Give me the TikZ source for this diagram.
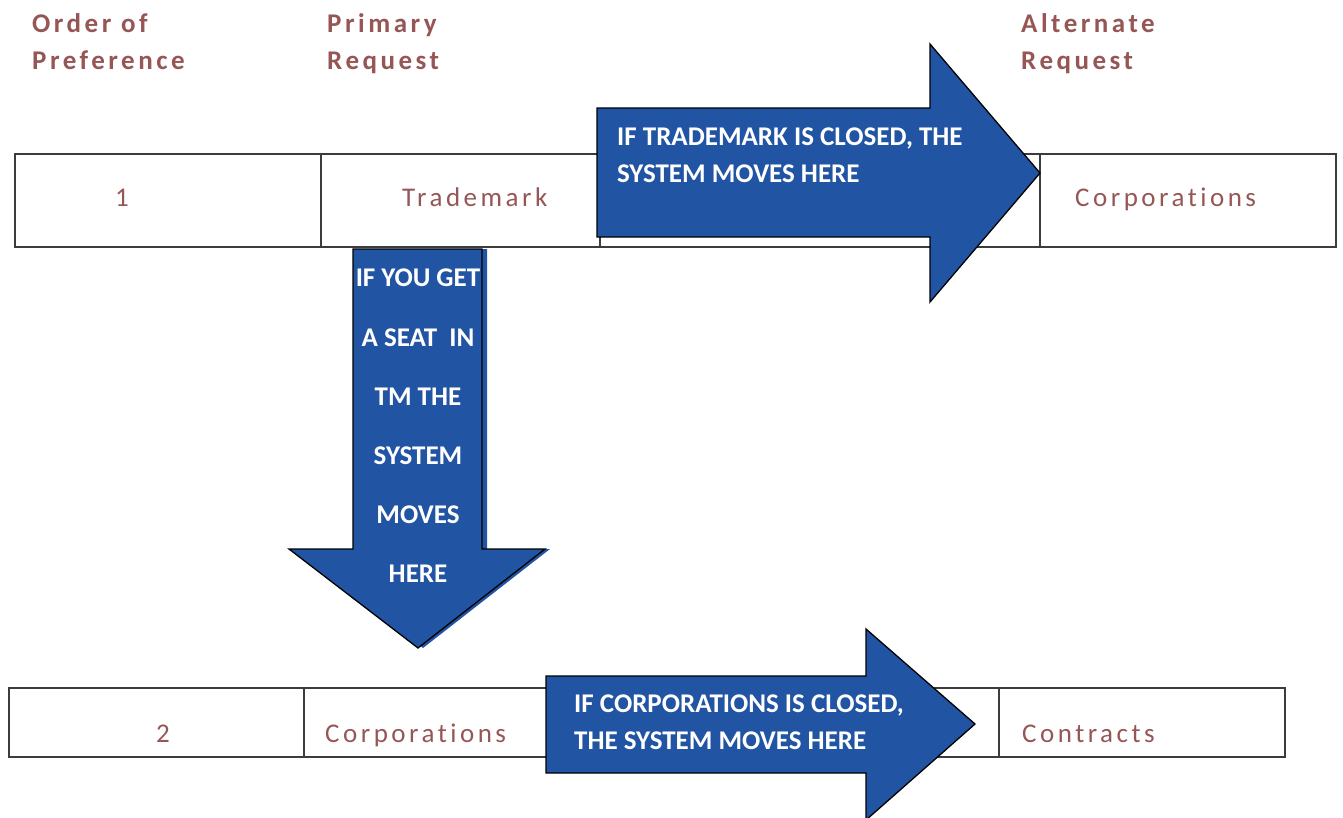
\documentclass[tikz,border=0pt]{standalone}
\usepackage{fontspec}
\setmainfont{Carlito}[Ligatures=NoCommon]
\definecolor{hdr}{RGB}{150,86,86}
\definecolor{arrowblue}{RGB}{34,84,164}
\definecolor{gridline}{RGB}{60,60,60}
\begin{document}
\begin{tikzpicture}[x=1pt,y=-1pt,
  cell/.style={draw=gridline, line width=1.1pt},
  bluearrow/.style={fill=arrowblue, draw=black, line width=1.3pt, line join=miter},
  bluecast/.style={fill=arrowblue, draw=none},
  headtext/.style={anchor=base west, text=hdr, inner sep=0pt,
    font=\fontsize{27}{32}\selectfont\bfseries\addfontfeatures{LetterSpace=13}},
  celltext/.style={anchor=base west, text=hdr, inner sep=0pt,
    font=\fontsize{27}{32}\selectfont\addfontfeatures{LetterSpace=13}},
  arrowtext/.style={anchor=base west, text=white, inner sep=0pt,
    font=\fontsize{27}{32}\selectfont\bfseries},
  downtext/.style={anchor=base, text=white, inner sep=0pt,
    font=\fontsize{27}{32}\selectfont\bfseries},
]
\useasboundingbox (0,0) rectangle (1343,817);

% headings
\node[headtext] (h1a) at (32,32) {Order of};
\node[headtext] (h1b) at (32,69) {Preference};
\node[headtext] (h2a) at (327,32) {Primary};
\node[headtext] (h2b) at (327,69) {Request};
\node[headtext] (h3a) at (1021,32) {Alternate};
\node[headtext] (h3b) at (1021,69) {Request};

% row 1 table
\draw[cell] (15,154) rectangle (1336,247);
\draw[cell] (321,154) -- (321,247);
\draw[cell] (600,154) -- (600,247);
\draw[cell] (1040,154) -- (1040,247);
\node[celltext] (r1n) at (115,206) {1};
\node[celltext] (r1p) at (402,206) {Trademark};
\node[celltext] (r1a) at (1075,206) {Corporations};

% row 2 table
\draw[cell] (9,688) rectangle (1285,757);
\draw[cell] (304,688) -- (304,757);
\draw[cell] (548,688) -- (548,757);
\draw[cell] (999,688) -- (999,757);
\node[celltext] (r2n) at (156,742) {2};
\node[celltext] (r2p) at (325,742) {Corporations};
\node[celltext] (r2a) at (1022,742) {Contracts};

% arrow 1 (right)
\draw[bluearrow] (597,108) -- (930,108) -- (930,44) -- (1040,173) -- (930,302) -- (930,237) -- (597,237) -- cycle;
\node[arrowtext] (a1l1) at (617,145) {IF TRADEMARK IS CLOSED, THE};
\node[arrowtext] (a1l2) at (617,182) {SYSTEM MOVES HERE};

% down arrow
\fill[bluecast, xshift=5pt] (353,249) -- (482,249) -- (482,549) -- (545,549) -- (418,648) -- (289,549) -- (353,549) -- cycle;
\draw[bluearrow] (353,249) -- (482,249) -- (482,549) -- (545,549) -- (418,648) -- (289,549) -- (353,549) -- cycle;
\node[downtext] (d1) at (418,286) {IF YOU GET};
\node[downtext] (d2) at (418,346) {A SEAT\ \ IN};
\node[downtext] (d3) at (418,405) {TM THE};
\node[downtext] (d4) at (418,464) {SYSTEM};
\node[downtext] (d5) at (418,523) {MOVES};
\node[downtext] (d6) at (418,582) {HERE};

% arrow 2 (right)
\draw[bluearrow] (546,676) -- (866,676) -- (866,629) -- (975,724) -- (866,820) -- (866,773) -- (546,773) -- cycle;
\node[arrowtext] (a2l1) at (574,712) {IF CORPORATIONS IS CLOSED,};
\node[arrowtext] (a2l2) at (574,749) {THE SYSTEM MOVES HERE};
\end{tikzpicture}
\end{document}
